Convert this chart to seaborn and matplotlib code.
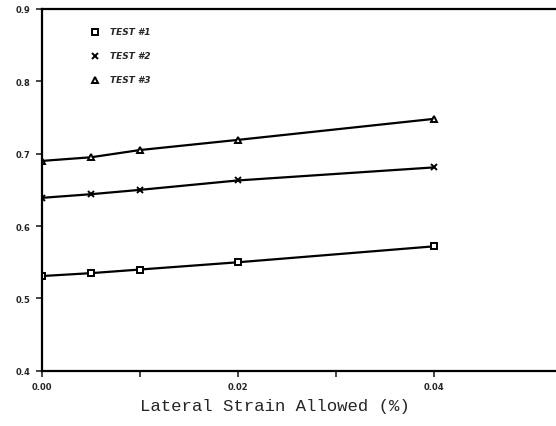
import seaborn as sns
import matplotlib.pyplot as plt

# lateral strain allowed (%) and the three test series
strain = [0.0, 0.005, 0.01, 0.02, 0.04]
test1 = [0.531, 0.535, 0.540, 0.550, 0.572]
test2 = [0.639, 0.644, 0.650, 0.663, 0.681]
test3 = [0.690, 0.695, 0.705, 0.719, 0.748]
labels = ["TEST #1", "TEST #2", "TEST #3"]
markers = ["s", "x", "^"]

sns.set_style("white")
plt.rcParams["font.family"] = ["DejaVu Sans"]

fig = plt.figure(figsize=(5.56, 4.27), dpi=100)
ax = fig.add_axes([0.0755, 0.129, 0.9245, 0.848])

# one call per series since filled and line markers can't be mixed
for vals, mk in zip([test1, test2, test3], markers):
    sns.lineplot(x=strain, y=vals, color="black", marker=mk, linewidth=1.6,
                 markersize=4.5, markerfacecolor="white", markeredgecolor="black",
                 markeredgewidth=1.4, ax=ax)

# legend drawn as text-style entries like the original
for i, (lab, mk) in enumerate(zip(labels, markers)):
    yy = 0.936 - i * 0.066
    ax.plot([0.103], [yy], marker=mk, transform=ax.transAxes, color="black",
            markerfacecolor="white", markersize=5, markeredgewidth=1.4, clip_on=False)
    ax.text(0.133, yy, lab, transform=ax.transAxes, va="center", ha="left",
            fontsize=6.5, fontweight="bold", fontstyle="italic")

ax.set_xlim(0, 0.0525)
ax.set_ylim(0.4, 0.9)
ax.set_xticks([0.0, 0.02, 0.04])
ax.set_xticks([0.01, 0.03], minor=True)
ax.set_xticklabels(["0.00", "0.02", "0.04"])
ax.set_yticks([0.4, 0.5, 0.6, 0.7, 0.8, 0.9])
ax.set_yticklabels(["0.4", "0.5", "0.6", "0.7", "0.8", "0.9"])
ax.tick_params(axis="both", which="both", direction="out", length=4, width=1.2,
               labelsize=6, pad=4, left=True, bottom=True)
for t in ax.get_xticklabels() + ax.get_yticklabels():
    t.set_fontweight("bold")

ax.set_xlabel("Lateral Strain Allowed (%)", fontsize=12.5,
              family=["Liberation Mono", "DejaVu Sans Mono"])
ax.xaxis.set_label_coords(0.453, -0.075)
ax.set_ylabel("")

for side in ["left", "bottom", "top"]:
    ax.spines[side].set_linewidth(1.6)
    ax.spines[side].set_color("black")
ax.spines["right"].set_visible(False)

fig.savefig("out.png", dpi=100)
